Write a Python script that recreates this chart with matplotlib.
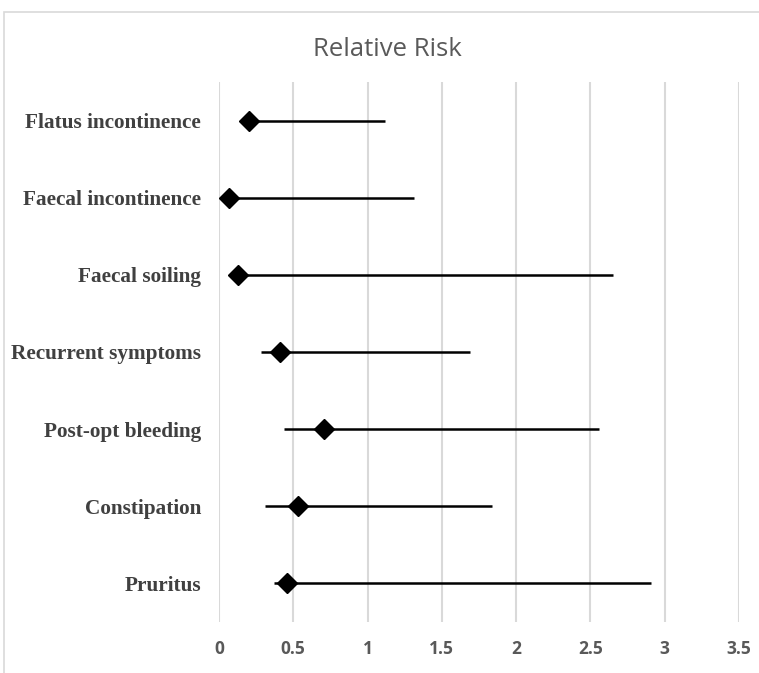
import matplotlib
matplotlib.use('Agg')
import matplotlib.pyplot as plt
from matplotlib.patches import Rectangle

# outcomes listed bottom to top
outcomes = ['Pruritus', 'Constipation', 'Post-opt bleeding', 'Recurrent symptoms',
            'Faecal soiling', 'Faecal incontinence', 'Flatus incontinence']
rr = [0.46, 0.53, 0.71, 0.41, 0.13, 0.07, 0.20]
ci_low = [0.37, 0.31, 0.44, 0.28, 0.08, 0.03, 0.17]
ci_high = [2.91, 1.84, 2.56, 1.69, 2.65, 1.31, 1.12]
xticks = [0, 0.5, 1, 1.5, 2, 2.5, 3, 3.5]

fig = plt.figure(figsize=(7.59, 6.73), dpi=100)
ax = fig.add_axes([0.2885, 0.0758, 0.685, 0.8024])

# chart border like the spreadsheet chart area
fig.patches.append(Rectangle((4/759, -0.01), 1.0, 1 - 12/673 + 0.01, transform=fig.transFigure,
                             fill=False, edgecolor='#d9d9d9', linewidth=1.2))

ypos = list(range(len(outcomes)))
ax.hlines(ypos, ci_low, ci_high, color='black', linewidth=1.8, zorder=3)
ax.plot(rr, ypos, linestyle='none', marker='D', markersize=10, color='black', zorder=4)

ax.set_xlim(0, 3.5)
ax.set_ylim(-0.5, len(outcomes) - 0.5)
ax.set_xticks(xticks)
ax.set_xticklabels([('%g' % t) for t in xticks], fontsize=12.5, fontweight='bold',
                   color='#595959', family='Open Sans')
ax.set_yticks(ypos)
ax.set_yticklabels(outcomes, fontsize=15.3, fontweight='bold', color='#404040',
                   family='Liberation Serif')
ax.tick_params(axis='both', length=0)
ax.tick_params(axis='x', pad=13)
ax.tick_params(axis='y', pad=13)
ax.grid(axis='x', color='#d9d9d9', linewidth=1.5)
ax.set_axisbelow(True)
for s in ax.spines.values():
    s.set_visible(False)

fig.text(0.511, 1 - 49/673, 'Relative Risk', ha='center', va='center', fontsize=18.5,
         color='#595959', family='Open Sans')

plt.savefig('out.png', dpi=100)
